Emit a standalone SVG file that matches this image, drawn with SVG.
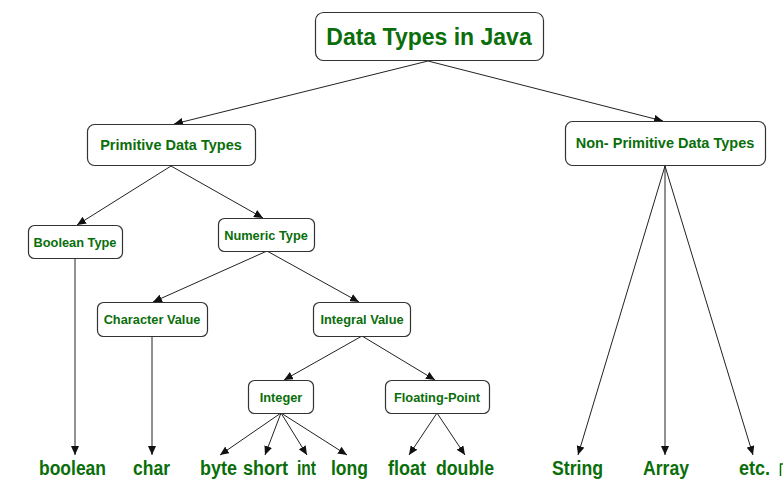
<svg xmlns="http://www.w3.org/2000/svg" width="783" height="480" viewBox="0 0 783 480">
<style>
.box{fill:#fff;stroke:#333;stroke-width:1.2}
.lbl{font-family:"Liberation Sans",Arial,sans-serif;font-weight:bold;fill:#0a6e0a;text-anchor:middle}
.leaf{font-family:"Liberation Sans",Arial,sans-serif;font-weight:bold;fill:#0a6e0a;font-size:20px}
.edge{stroke:#222;stroke-width:1;fill:none;marker-end:url(#ah)}
</style>
<defs>
<marker id="ah" markerUnits="userSpaceOnUse" markerWidth="10" markerHeight="8" refX="9" refY="4" orient="auto">
<path d="M0,0 L9,4 L0,8 Z" fill="#111"/>
</marker>
</defs>
<rect width="783" height="480" fill="#fff"/>
<g id="connectors">
<line class="edge" x1="428" y1="61" x2="174" y2="124"/>
<line class="edge" x1="428" y1="61" x2="663" y2="121"/>
<line class="edge" x1="171" y1="166" x2="77" y2="225"/>
<line class="edge" x1="171" y1="166" x2="263" y2="218"/>
<line class="edge" x1="267" y1="251" x2="153" y2="302"/>
<line class="edge" x1="267" y1="251" x2="359" y2="302"/>
<line class="edge" x1="362" y1="336" x2="284" y2="380"/>
<line class="edge" x1="362" y1="336" x2="435" y2="380"/>
<line class="edge" x1="281" y1="413" x2="220" y2="455"/>
<line class="edge" x1="281" y1="413" x2="265" y2="455"/>
<line class="edge" x1="281" y1="413" x2="307" y2="455"/>
<line class="edge" x1="281" y1="413" x2="347" y2="455"/>
<line class="edge" x1="437" y1="413" x2="409" y2="455"/>
<line class="edge" x1="437" y1="413" x2="465" y2="455"/>
<line class="edge" x1="75" y1="258" x2="75" y2="455"/>
<line class="edge" x1="152" y1="336" x2="152" y2="455"/>
<line class="edge" x1="665" y1="166" x2="578" y2="455"/>
<line class="edge" x1="665" y1="166" x2="665" y2="455"/>
<line class="edge" x1="665" y1="166" x2="753" y2="455"/>
</g>
<g id="root">
<rect class="box" x="315.5" y="12.5" width="228" height="48" rx="8"/>
<text class="lbl" x="429" y="45" font-size="23">Data Types in Java</text>
</g>
<g id="primitive">
<rect class="box" x="87.5" y="124.5" width="168" height="41" rx="7"/>
<text class="lbl" x="171" y="150" font-size="14.5">Primitive Data Types</text>
</g>
<g id="nonprimitive">
<rect class="box" x="565.5" y="121.5" width="200" height="44" rx="7"/>
<text class="lbl" x="665" y="148" font-size="14.5">Non- Primitive Data Types</text>
</g>
<g id="boolean-type">
<rect class="box" x="28.5" y="225.5" width="94" height="33" rx="6"/>
<text class="lbl" x="75" y="246.5" font-size="12.8">Boolean Type</text>
</g>
<g id="numeric-type">
<rect class="box" x="218.5" y="218.5" width="96" height="33" rx="6"/>
<text class="lbl" x="266" y="239.5" font-size="12.8">Numeric Type</text>
</g>
<g id="character-value">
<rect class="box" x="97.5" y="302.5" width="110" height="34" rx="6"/>
<text class="lbl" x="152" y="324" font-size="12.8">Character Value</text>
</g>
<g id="integral-value">
<rect class="box" x="313.5" y="302.5" width="97" height="34" rx="6"/>
<text class="lbl" x="362" y="324" font-size="12.8">Integral Value</text>
</g>
<g id="integer">
<rect class="box" x="248.5" y="380.5" width="65" height="33" rx="6"/>
<text class="lbl" x="281" y="401.5" font-size="12.8">Integer</text>
</g>
<g id="floating-point">
<rect class="box" x="385.5" y="380.5" width="104" height="33" rx="6"/>
<text class="lbl" x="437" y="401.5" font-size="12.8">Floating-Point</text>
</g>
<g id="leaves">
<text class="leaf" x="39" y="475" textLength="67" lengthAdjust="spacingAndGlyphs">boolean</text>
<text class="leaf" x="133" y="475" textLength="37" lengthAdjust="spacingAndGlyphs">char</text>
<text class="leaf" x="200" y="475" textLength="37" lengthAdjust="spacingAndGlyphs">byte</text>
<text class="leaf" x="243" y="475" textLength="45" lengthAdjust="spacingAndGlyphs">short</text>
<text class="leaf" x="297" y="475" textLength="19" lengthAdjust="spacingAndGlyphs">int</text>
<text class="leaf" x="331" y="475" textLength="37" lengthAdjust="spacingAndGlyphs">long</text>
<text class="leaf" x="388" y="475" textLength="38" lengthAdjust="spacingAndGlyphs">float</text>
<text class="leaf" x="436" y="475" textLength="58" lengthAdjust="spacingAndGlyphs">double</text>
<text class="leaf" x="552" y="475" textLength="51" lengthAdjust="spacingAndGlyphs">String</text>
<text class="leaf" x="643" y="475" textLength="46" lengthAdjust="spacingAndGlyphs">Array</text>
<text class="leaf" x="739" y="475" textLength="31" lengthAdjust="spacingAndGlyphs">etc.</text>
</g>
<path d="M780.5,476 V464 H783" fill="none" stroke="#0a6e0a" stroke-width="1.5"/>
</svg>
